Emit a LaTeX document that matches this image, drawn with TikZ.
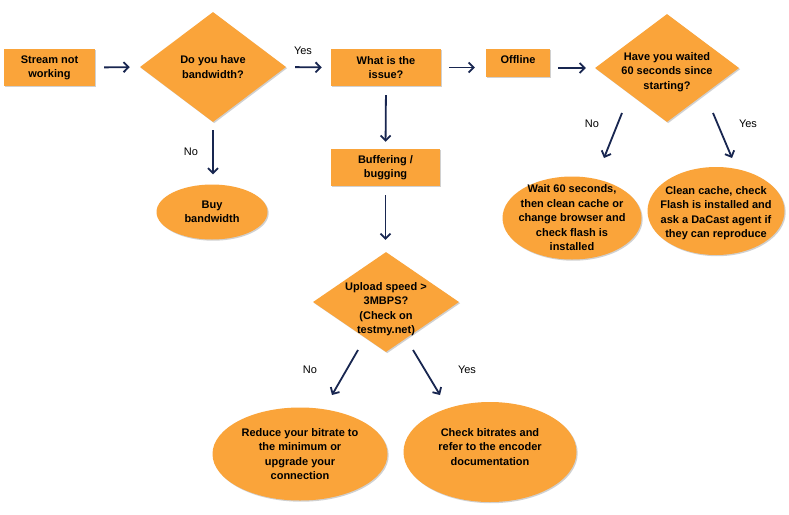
\documentclass[tikz,border=0pt]{standalone}
\usepackage{fontspec}
\setmainfont{Liberation Sans}
\usetikzlibrary{shapes.geometric,arrows.meta,shadows}
\definecolor{orng}{RGB}{250,164,58}
\definecolor{navy}{RGB}{24,38,80}
\begin{document}
\begin{tikzpicture}[x=1pt,y=-1pt,
  shad/.style={drop shadow={shadow xshift=1.2pt,shadow yshift=-1.2pt,opacity=0.3,fill=black!60}},
  rbox/.style={rectangle,fill=orng,inner sep=0pt,shad,font=\bfseries\fontsize{11}{14}\selectfont,align=center},
  dia/.style={diamond,fill=orng,inner sep=0pt,shad},
  ell/.style={ellipse,fill=orng,inner sep=0pt,shad},
  txt/.style={font=\bfseries\fontsize{11}{14.5}\selectfont,align=center,inner sep=0pt},
  arr/.style={draw=navy,line width=1.8pt,-{Straight Barb[length=5pt,width=10pt]}},
  lab/.style={font=\fontsize{11}{12}\selectfont,inner sep=0pt}]
\fill[white] (0,0) rectangle (789,514);
\useasboundingbox (0,0) rectangle (789,514);

% rectangles
\node[rbox,minimum width=91pt,minimum height=37pt] (stream) at (49.5,67.5) {Stream not\\working};
\node[rbox,minimum width=110pt,minimum height=37pt] (issue) at (386,67.5) {What is the\\issue?};
\node[rbox,minimum width=64pt,minimum height=28pt] (offline) at (518,63) {};
\node[txt] (offlineT) at (518,60) {Offline};
\node[rbox,minimum width=109pt,minimum height=37pt] (buffer) at (385.5,167.5) {Buffering /\\bugging};

% diamonds
\node[dia,minimum width=146pt,minimum height=110pt] (d1) at (213,67) {};
\node[txt] (d1T) at (213,67) {Do you have\\bandwidth?};
\node[dia,minimum width=144pt,minimum height=108pt] (d2) at (667,68) {};
\node[txt] (d2T) at (667,72) {Have you waited\\60 seconds since\\starting?};
\node[dia,minimum width=146pt,minimum height=100pt] (d3) at (386,302) {};
\node[txt] (d3T) at (386,309) {Upload speed >\\3MBPS?\\(Check on\\testmy.net)};

% ellipses
\node[ell,minimum width=111pt,minimum height=55pt] (buy) at (212,212) {};
\node[txt] (buyT) at (212,212) {Buy\\bandwidth};
\node[ell,minimum width=139pt,minimum height=83pt] (wait) at (572,218) {};
\node[txt] (waitT) at (572,218) {Wait 60 seconds,\\then clean cache or\\change browser and\\check flash is\\installed};
\node[ell,minimum width=137pt,minimum height=88pt] (clean) at (716,211) {};
\node[txt] (cleanT) at (716,213) {Clean cache, check\\Flash is installed and\\ask a DaCast agent if\\they can reproduce};
\node[ell,minimum width=175pt,minimum height=93pt] (reduce) at (300,454) {};
\node[txt] (reduceT) at (300,454) {Reduce your bitrate to\\the minimum or\\upgrade your\\connection};
\node[ell,minimum width=173pt,minimum height=100pt] (check) at (490,452) {};
\node[txt] (checkT) at (490,447) {Check bitrates and\\refer to the encoder\\documentation};

% straight connectors
\draw[arr,shorten <=9pt,shorten >=10pt] (stream.east) -- (d1.west);
\draw[arr,shorten <=9pt,shorten >=9pt] (d1.east) -- (issue.west);
\draw[arr,shorten <=8pt,shorten >=11pt] (issue.east) -- (issue.east -| offline.west);
\draw[arr,shorten <=8pt,shorten >=9pt] (offline.east |- d2.west) -- (d2.west);
\draw[arr,shorten <=8pt,shorten >=10pt] (d1.south) -- (d1.south |- buy.north);
\draw[arr,shorten <=9pt,shorten >=7pt] (issue.south) -- (buffer.north);
\draw[arr,shorten <=9pt,shorten >=12pt] (buffer.south) -- (buffer.south |- d3.north);

% diagonal connectors
\coordinate (d2a) at (622,113); \coordinate (waitA) at (604,158);
\coordinate (d2b) at (713,113); \coordinate (cleanA) at (732,158);
\coordinate (d3a) at (358,350); \coordinate (reduceA) at (332,395);
\coordinate (d3b) at (413,350); \coordinate (checkA) at (440,395);
\draw[arr] (d2a) -- (waitA);
\draw[arr] (d2b) -- (cleanA);
\draw[arr] (d3a) -- (reduceA);
\draw[arr] (d3b) -- (checkA);

% labels
\node[lab] (yes1) at (303,51) {Yes};
\node[lab] (no1) at (191,152) {No};
\node[lab] (no2) at (592,124) {No};
\node[lab] (yes2) at (748,124) {Yes};
\node[lab] (no3) at (310,370) {No};
\node[lab] (yes3) at (467,370) {Yes};
\end{tikzpicture}
\end{document}
